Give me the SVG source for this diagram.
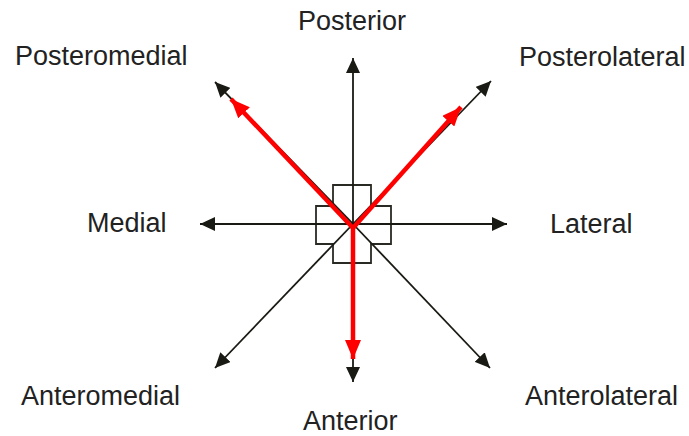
<svg xmlns="http://www.w3.org/2000/svg" width="689" height="436" viewBox="0 0 689 436">
<defs>
<marker id="ah" markerUnits="userSpaceOnUse" markerWidth="16" markerHeight="14" refX="15" refY="7" orient="auto"><path d="M0,0 L15,7 L0,14 z" fill="#1a1a14"/></marker>
<marker id="ahr" markerUnits="userSpaceOnUse" markerWidth="20" markerHeight="16" refX="19" refY="8" orient="auto"><path d="M0,0 L19,8 L0,16 z" fill="#ff0000"/></marker>
<style>
.lbl{font-family:"Liberation Sans",Arial,sans-serif;font-size:27px;fill:#222;}
.ax{stroke:#1a1a14;stroke-width:1.8;fill:none;marker-end:url(#ah);}
.red{stroke:#ff0000;stroke-width:4.5;fill:none;marker-end:url(#ahr);}
.cross{stroke:#2a2a24;stroke-width:1.8;fill:#fff;}
</style>
</defs>
<rect width="689" height="436" fill="#fff"/>
<g id="cross"><path class="cross" d="M333,185 H371 V206 H391 V244 H371 V263 H333 V244 H316 V206 H333 Z"/></g>
<g id="connectors">
<line class="ax" x1="353" y1="224" x2="353" y2="58"/>
<line class="ax" x1="353" y1="224" x2="353" y2="382"/>
<line class="ax" x1="353" y1="224" x2="200" y2="224"/>
<line class="ax" x1="353" y1="224" x2="507" y2="224"/>
<line class="ax" x1="353" y1="224" x2="215" y2="82"/>
<line class="ax" x1="353" y1="224" x2="491" y2="81"/>
<line class="ax" x1="353" y1="224" x2="215" y2="368"/>
<line class="ax" x1="353" y1="224" x2="490" y2="368"/>
<line class="red" x1="353" y1="228" x2="231" y2="99"/>
<line class="red" x1="353" y1="228" x2="461" y2="107"/>
<line class="red" x1="353" y1="226" x2="353" y2="359"/>
</g>
<g id="posterior"><text class="lbl" x="298" y="30">Posterior</text></g>
<g id="posteromedial"><text class="lbl" x="15" y="65">Posteromedial</text></g>
<g id="posterolateral"><text class="lbl" x="519" y="66">Posterolateral</text></g>
<g id="medial"><text class="lbl" x="87" y="232">Medial</text></g>
<g id="lateral"><text class="lbl" x="550" y="233">Lateral</text></g>
<g id="anteromedial"><text class="lbl" x="21" y="405">Anteromedial</text></g>
<g id="anterolateral"><text class="lbl" x="525" y="405">Anterolateral</text></g>
<g id="anterior"><text class="lbl" x="303" y="430">Anterior</text></g>
</svg>
